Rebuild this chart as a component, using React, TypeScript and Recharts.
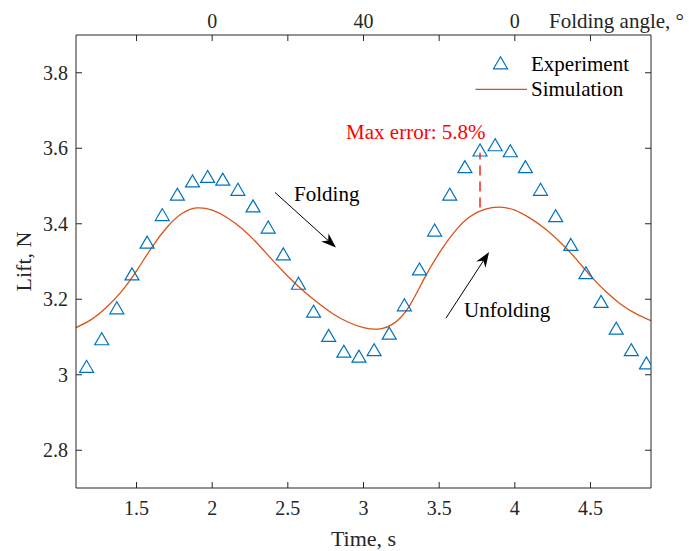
import React from 'react';
import {
  ComposedChart, Line, Scatter, XAxis, YAxis, Legend, ReferenceLine, ReferenceDot,
} from 'recharts';

const expTime = [
  1.17, 1.27, 1.37, 1.47, 1.57, 1.67, 1.77, 1.87, 1.97, 2.07,
  2.17, 2.27, 2.37, 2.47, 2.57, 2.67, 2.77, 2.87, 2.97, 3.07,
  3.17, 3.27, 3.37, 3.47, 3.57, 3.67, 3.77, 3.87, 3.97, 4.07,
  4.17, 4.27, 4.37, 4.47, 4.57, 4.67, 4.77, 4.87,
];
const expLift = [
  3.021, 3.094, 3.176, 3.266, 3.35, 3.423, 3.477, 3.512, 3.524, 3.517,
  3.49, 3.446, 3.39, 3.319, 3.241, 3.167, 3.103, 3.061, 3.048, 3.065,
  3.109, 3.184, 3.279, 3.382, 3.477, 3.55, 3.594, 3.608, 3.592, 3.55,
  3.49, 3.42, 3.344, 3.269, 3.193, 3.122, 3.065, 3.03,
];

const simTime = [
  1.1, 1.2, 1.3, 1.4, 1.5, 1.6, 1.7, 1.8, 1.9, 2.0,
  2.1, 2.2, 2.3, 2.4, 2.5, 2.6, 2.7, 2.8, 2.9, 3.0,
  3.1, 3.2, 3.3, 3.4, 3.5, 3.6, 3.7, 3.8, 3.9, 4.0,
  4.1, 4.2, 4.3, 4.4, 4.5, 4.6, 4.7, 4.8, 4.9,
];
const simLift = [
  3.125, 3.146, 3.178, 3.22, 3.275, 3.337, 3.39, 3.427, 3.442, 3.436,
  3.416, 3.386, 3.347, 3.303, 3.261, 3.223, 3.19, 3.161, 3.139, 3.125,
  3.121, 3.136, 3.18, 3.254, 3.322, 3.378, 3.418, 3.438, 3.444, 3.436,
  3.415, 3.387, 3.351, 3.309, 3.262, 3.221, 3.187, 3.162, 3.143,
];

const timeTicks = [1.5, 2, 2.5, 3, 3.5, 4, 4.5];
const angleLabels = ['', '0', '', '40', '', '0', ''];
const liftTicks = [2.8, 3, 3.2, 3.4, 3.6, 3.8];

// annotation anchors in data units (time, lift)
const foldingArrow = [{ x: 2.415, y: 3.483 }, { x: 2.818, y: 3.337 }];
const unfoldingArrow = [{ x: 3.545, y: 3.15 }, { x: 3.83, y: 3.325 }];
const maxErrorLine = [{ x: 3.77, y: 3.443 }, { x: 3.77, y: 3.588 }];
const notes = [
  { x: 2.541, y: 3.459, text: 'Folding', color: '#000000' },
  { x: 3.664, y: 3.152, text: 'Unfolding', color: '#000000' },
  { x: 2.885, y: 3.625, text: 'Max error: 5.8%', color: '#ff0000' },
];

const experiment = expTime.map((t, i) => ({ t, lift: expLift[i] }));
const simulation = simTime.map((t, i) => ({ t, lift: simLift[i] }));

const AXIS = '#262626';
const BLUE = '#0072BD';
const ORANGE = '#D95319';

const triangle = (cx: number, cy: number) =>
  `${cx},${cy - 6.5} ${cx - 7},${cy + 5.5} ${cx + 7},${cy + 5.5}`;

const Marker = (p: any) => (
  <polygon points={triangle(p.cx, p.cy)} fill="none" stroke={BLUE} strokeWidth={1.2} />
);

const BottomTick = (p: any) => (
  <g>
    <line x1={p.x} y1={p.y} x2={p.x} y2={p.y - 6} stroke={AXIS} />
    <text x={p.x} y={p.y + 27} textAnchor="middle" fill={AXIS}>{p.payload.value}</text>
  </g>
);

const TopTick = (p: any) => (
  <g>
    <line x1={p.x} y1={p.y} x2={p.x} y2={p.y + 6} stroke={AXIS} />
    <text x={p.x} y={p.y - 7} textAnchor="middle" fill={AXIS}>
      {angleLabels[timeTicks.indexOf(p.payload.value)]}
    </text>
  </g>
);

const LeftTick = (p: any) => (
  <g>
    <line x1={p.x} y1={p.y} x2={p.x + 6} y2={p.y} stroke={AXIS} />
    <text x={p.x - 8} y={p.y + 7} textAnchor="end" fill={AXIS}>{p.payload.value}</text>
  </g>
);

const RightTick = (p: any) => (
  <line x1={p.x} y1={p.y} x2={p.x - 6} y2={p.y} stroke={AXIS} />
);

const Arrow = (p: any) => {
  const { x1, y1, x2, y2 } = p;
  const a = Math.atan2(y2 - y1, x2 - x1);
  const c = Math.cos(a), s = Math.sin(a);
  const L = 15, W = 5.5;
  const bx = x2 - L * c, by = y2 - L * s;
  const nx = x2 - 0.7 * L * c, ny = y2 - 0.7 * L * s;
  return (
    <g>
      <line x1={x1} y1={y1} x2={nx} y2={ny} stroke="#000" strokeWidth={1} />
      <polygon
        points={`${x2},${y2} ${bx - W * s},${by + W * c} ${nx},${ny} ${bx + W * s},${by - W * c}`}
        fill="#000"
      />
    </g>
  );
};

const LegendBox = () => (
  <svg width={180} height={60}>
    <polygon points={triangle(30.5, 18.3)} fill="none" stroke={BLUE} strokeWidth={1.2} />
    <text x={61} y={26} fill="#000" fontSize={21}>Experiment</text>
    <line x1={5.5} y1={44.3} x2={57} y2={44.3} stroke={ORANGE} strokeWidth={1.3} />
    <text x={61} y={51} fill="#000" fontSize={21}>Simulation</text>
  </svg>
);

export default function App() {
  return (
    <div style={{ position: 'absolute', left: 0, top: 0, fontFamily: '"Liberation Serif", serif', fontSize: 20 }}>
      <ComposedChart width={689} height={551} margin={{ top: 0, right: 0, bottom: 0, left: 0 }}>
        <XAxis
          xAxisId={0}
          dataKey="t"
          type="number"
          domain={[1.1, 4.9]}
          ticks={timeTicks}
          allowDataOverflow
          height={63}
          stroke={AXIS}
          tickLine={false}
          tickSize={0}
          tickMargin={0}
          tick={BottomTick}
          label={{
            content: (l: any) => (
              <text x={l.viewBox.x + l.viewBox.width / 2} y={l.viewBox.y + 58} textAnchor="middle" fill={AXIS} fontSize={22}>
                Time, s
              </text>
            ),
          }}
        />
        <XAxis
          xAxisId="top"
          orientation="top"
          dataKey="t"
          type="number"
          domain={[1.1, 4.9]}
          ticks={timeTicks}
          interval={0}
          allowDataOverflow
          height={35}
          stroke={AXIS}
          tickLine={false}
          tickSize={0}
          tickMargin={0}
          tick={TopTick}
          label={{
            content: (l: any) => (
              <text x={l.viewBox.x + l.viewBox.width - 102} y={l.viewBox.y + l.viewBox.height - 7} fill={AXIS} fontSize={21}>
                Folding angle, °
              </text>
            ),
          }}
        />
        <YAxis
          yAxisId={0}
          type="number"
          domain={[2.7, 3.9]}
          ticks={liftTicks}
          allowDataOverflow
          width={76}
          stroke={AXIS}
          tickLine={false}
          tickSize={0}
          tickMargin={0}
          tick={LeftTick}
          label={{
            content: (l: any) => {
              const cx = l.viewBox.x + 31;
              const cy = l.viewBox.y + l.viewBox.height / 2;
              return (
                <text x={cx} y={cy} textAnchor="middle" fill={AXIS} fontSize={22} transform={`rotate(-90 ${cx} ${cy})`}>
                  Lift, N
                </text>
              );
            },
          }}
        />
        <YAxis
          yAxisId="right"
          orientation="right"
          type="number"
          domain={[2.7, 3.9]}
          ticks={liftTicks}
          allowDataOverflow
          width={38}
          stroke={AXIS}
          tickLine={false}
          tickSize={0}
          tickMargin={0}
          tick={RightTick}
        />
        <Line
          data={simulation}
          dataKey="lift"
          type="natural"
          stroke={ORANGE}
          strokeWidth={1.3}
          dot={false}
          activeDot={false}
          isAnimationActive={false}
        />
        <Scatter
          data={experiment}
          dataKey="lift"
          shape={Marker}
          isAnimationActive={false}
        />
        <ReferenceLine
          segment={maxErrorLine}
          stroke="#ff0000"
          strokeWidth={1.3}
          strokeDasharray="10 6"
        />
        <ReferenceLine segment={foldingArrow} shape={Arrow} />
        <ReferenceLine segment={unfoldingArrow} shape={Arrow} />
        {notes.map((n) => (
          <ReferenceDot
            key={n.text}
            x={n.x}
            y={n.y}
            r={0}
            shape={(p: any) => (
              <text x={p.cx} y={p.cy} fill={n.color} fontSize={21}>{n.text}</text>
            )}
          />
        ))}
        <Legend
          layout="vertical"
          align="center"
          verticalAlign="middle"
          wrapperStyle={{ left: 470, top: 45, width: 180, height: 60 }}
          content={LegendBox}
        />
      </ComposedChart>
    </div>
  );
}
